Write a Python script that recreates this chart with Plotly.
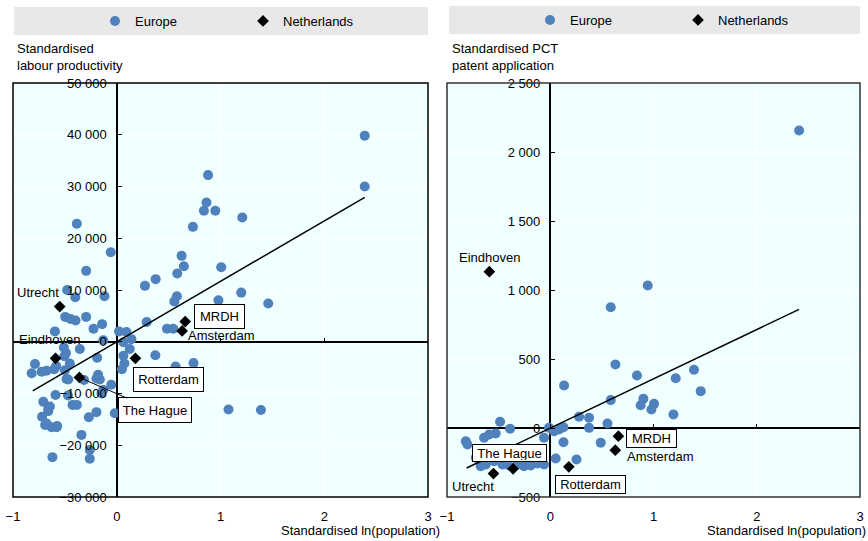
import plotly.graph_objects as go

# ---------------- data ----------------
europe_lp_x = [2.39, 2.39, 0.88, 0.865, 0.84, 0.95, 0.734, 1.21, -0.385, -0.058, 0.625, 0.647, 0.583, 1.007,
               -0.295, 0.375, 0.272, -0.478, -0.40, -0.118, 0.58, 0.555, 1.20, 0.98, 1.46, -0.497, -0.445,
               -0.397, -0.295, -0.141, -0.224, 0.288, 0.484, 0.545, -0.596, 0.022, 0.093, -0.13, 0.141,
               0.064, -0.356, -0.51, -0.49, 0.125, 0.372, 0.064, -0.506, -0.788, -0.82, -0.724, -0.676,
               -0.584, -0.50, -0.452, -0.18, -0.196, -0.484, -0.053, 0.074, 0.05, 0.567, 0.74, -0.708,
               -0.66, -0.72, -0.676, -0.628, -0.58, -0.59, -0.47, -0.426, -0.385, -0.269, -0.196, -0.147,
               -0.13, -0.019, -0.34, -0.26, -0.26, -0.62, 1.077, 1.39, -0.189, -0.603, -0.468, -0.315,
               -0.163, -0.644, -0.66, -0.69, -0.574]
europe_lp_y = [39800, 30000, 32200, 26900, 25300, 25300, 22200, 24000, 22800, 17300, 16600, 14600, 13200, 14400,
               13700, 12100, 10800, 10000, 8600, 8800, 8800, 7800, 9500, 8000, 7400, 4800, 4400,
               4100, 4800, 3400, 2500, 3800, 2500, 2500, 2000, 2000, 1900, 300, 500,
               -100, -1400, -1100, -2200, -1400, -2600, -2700, -2800, -4300, -6100, -5800, -5600,
               -4700, -5500, -4200, -6400, -7100, -7200, -8300, -4200, -5300, -4800, -4100, -11600,
               -12900, -14500, -15800, -16500, -16500, -10300, -10400, -12200, -12200, -14600, -13600, -10000,
               -9300, -13800, -18000, -20900, -22600, -22300, -13100, -13200, -3100, -5300, -7300, -7400,
               -7300, -12500, -13400, -16100, -16300]

europe_pct_x = [2.41, 0.944, 0.586, 0.631, 0.84, 1.215, 1.392, 1.457, 0.586, 0.902, 0.876, 1.005, 0.98,
                1.193, 0.554, 0.489, 0.134, 0.279, 0.376, 0.376, 0.128, 0.053, 0.254, -0.012, 0.037,
                0.085, 0.128, -0.06, -0.486, -0.389, -0.528, -0.592, -0.641, -0.818, -0.802, -0.721,
                -0.673, -0.624, -0.544, -0.463, -0.399, -0.318, -0.254, -0.189, -0.124, -0.06]
europe_pct_y = [2156, 1033, 875, 460, 380, 360, 422, 267, 202, 212, 165, 175, 134,
                98, 33, -107, 308, 81, 74, 1, -103, -221, -228, 1, -23,
                -11, 6, -71, 45, -6, -40, -47, -71, -96, -120, -216,
                -277, -264, -241, -264, -272, -264, -277, -272, -257, -264]

nl_cities = ["Utrecht", "MRDH", "Amsterdam", "Eindhoven", "Rotterdam", "The Hague"]
nl_pop_x = [-0.55, 0.66, 0.63, -0.59, 0.18, -0.36]
nl_lp_y = [6800, 3900, 2100, -3200, -3200, -6900]
nl_pct_y = [-330, -59, -161, 1133, -281, -296]

lp_trend_x = [-0.81, 2.39]
lp_trend_y = [-9500, 27900]
pct_trend_x = [-0.81, 2.41]
pct_trend_y = [-290, 860]

x_ticks = [-1, 0, 1, 2, 3]
lp_range = [-30000, 50000]
pct_range = [-500, 2500]

# ---------------- styling / layout ----------------
W, H = 868, 541
FONT = "Liberation Sans, Arial, sans-serif"
FS = 13
BLUE = "#4F81BD"
BG = "#F0FFFF"


def px_x(p):
    return p / W


def px_y(p):
    return 1 - p / H


xdomL = [px_x(13), px_x(428)]
xdomR = [px_x(447), px_x(860)]
ydom = [px_y(497), px_y(83)]


def frac(dom, rng, v):
    return dom[0] + (v - rng[0]) / (rng[1] - rng[0]) * (dom[1] - dom[0])


fig = go.Figure()

# Left panel
fig.add_trace(go.Scatter(x=europe_lp_x, y=europe_lp_y, mode="markers", name="Europe",
                         marker=dict(color=BLUE, size=10), xaxis="x", yaxis="y", legend="legend"))
fig.add_trace(go.Scatter(x=lp_trend_x, y=lp_trend_y, mode="lines", showlegend=False,
                         line=dict(color="black", width=1.5), xaxis="x", yaxis="y"))
fig.add_trace(go.Scatter(x=nl_pop_x, y=nl_lp_y, mode="markers", name="Netherlands", text=nl_cities,
                         marker=dict(color="black", size=9, symbol="diamond"), xaxis="x", yaxis="y",
                         legend="legend"))
fig.add_trace(go.Scatter(x=[], y=[], xaxis="x3", yaxis="y", showlegend=False))

# Right panel
fig.add_trace(go.Scatter(x=europe_pct_x, y=europe_pct_y, mode="markers", name="Europe",
                         marker=dict(color=BLUE, size=10), xaxis="x2", yaxis="y2", legend="legend2"))
fig.add_trace(go.Scatter(x=pct_trend_x, y=pct_trend_y, mode="lines", showlegend=False,
                         line=dict(color="black", width=1.5), xaxis="x2", yaxis="y2"))
fig.add_trace(go.Scatter(x=nl_pop_x, y=nl_pct_y, mode="markers", name="Netherlands", text=nl_cities,
                         marker=dict(color="black", size=9, symbol="diamond"), xaxis="x2", yaxis="y2",
                         legend="legend2"))
fig.add_trace(go.Scatter(x=[], y=[], xaxis="x4", yaxis="y2", showlegend=False))

tickfont = dict(family=FONT, size=FS, color="black")

xcommon = dict(range=[-1, 3], tickvals=x_ticks, showgrid=True, gridcolor="white", gridwidth=1,
               zeroline=True, zerolinecolor="black", zerolinewidth=2, showline=False, ticks="",
               tickfont=tickfont, ticklabelstandoff=10, automargin=False, fixedrange=True)
ycommon = dict(showgrid=True, gridcolor="white", gridwidth=1, zeroline=True, zerolinecolor="black",
               zerolinewidth=2, showline=False, ticks="inside", ticklen=4, tickcolor="black", tickwidth=1,
               tickfont=tickfont, tickformat=",d", ticklabelstandoff=10, automargin=False, fixedrange=True,
               anchor="free", side="left")
tickaxis = dict(range=[-1, 3], tickvals=x_ticks, ticks="inside", ticklen=4, tickcolor="black",
                showticklabels=False, showgrid=False, zeroline=False, showline=False, anchor="free",
                automargin=False, fixedrange=True)

fig.update_layout(
    width=W, height=H,
    margin=dict(l=0, r=0, t=0, b=0),
    paper_bgcolor="white", plot_bgcolor=BG,
    separators=". ",
    font=dict(family=FONT, size=FS, color="black"),
    xaxis=dict(domain=xdomL, anchor="y", **xcommon),
    yaxis=dict(domain=ydom, range=lp_range, dtick=10000,
               position=frac(xdomL, [-1, 3], 0), **ycommon),
    xaxis2=dict(domain=xdomR, anchor="y2", **xcommon),
    yaxis2=dict(domain=ydom, range=pct_range, dtick=500,
                position=frac(xdomR, [-1, 3], 0), **ycommon),
    xaxis3=dict(domain=xdomL, overlaying="x", position=frac(ydom, lp_range, 0), **tickaxis),
    xaxis4=dict(domain=xdomR, overlaying="x2", position=frac(ydom, pct_range, 0), **tickaxis),
    legend=dict(orientation="h", x=px_x(95), xanchor="left", y=px_y(21), yanchor="middle",
                bgcolor="rgba(0,0,0,0)", font=dict(family=FONT, size=FS), entrywidth=103,
                itemclick=False, itemdoubleclick=False),
    legend2=dict(orientation="h", x=px_x(530), xanchor="left", y=px_y(20), yanchor="middle",
                 bgcolor="rgba(0,0,0,0)", font=dict(family=FONT, size=FS), entrywidth=103,
                 itemclick=False, itemdoubleclick=False),
    showlegend=True,
)

shapes = [
    # legend bands
    dict(type="rect", xref="paper", yref="paper", x0=px_x(14), x1=px_x(428), y0=px_y(35), y1=px_y(7),
         fillcolor="#E8E8E8", line=dict(width=0), layer="below"),
    dict(type="rect", xref="paper", yref="paper", x0=px_x(449), x1=px_x(860), y0=px_y(34), y1=px_y(6),
         fillcolor="#E8E8E8", line=dict(width=0), layer="below"),
    # plot frames
    dict(type="rect", xref="paper", yref="paper", x0=xdomL[0], x1=xdomL[1], y0=ydom[0], y1=ydom[1],
         line=dict(color="black", width=1.5), layer="above"),
    dict(type="rect", xref="paper", yref="paper", x0=xdomR[0], x1=xdomR[1], y0=ydom[0], y1=ydom[1],
         line=dict(color="#333333", width=1.5), layer="above"),
]
fig.update_layout(shapes=shapes)

lab = dict(family=FONT, size=FS, color="black")
box = dict(bgcolor="white", bordercolor="black", borderwidth=1, borderpad=1, showarrow=False,
           xanchor="center", yanchor="middle", font=lab)
plain = dict(showarrow=False, xanchor="center", yanchor="middle", font=lab)

annotations = [
    # axis titles
    dict(text="Standardised<br>labour productivity", xref="paper", yref="paper", x=px_x(15), y=px_y(39),
         xanchor="left", yanchor="top", align="left", showarrow=False, font=lab),
    dict(text="Standardised PCT<br>patent application", xref="paper", yref="paper", x=px_x(450),
         y=px_y(39), xanchor="left", yanchor="top", align="left", showarrow=False, font=lab),
    dict(text="Standardised ln(population)", xref="paper", yref="paper", x=px_x(442), y=px_y(530),
         xanchor="right", yanchor="middle", showarrow=False, font=lab),
    dict(text="Standardised ln(population)", xref="paper", yref="paper", x=px_x(868), y=px_y(530),
         xanchor="right", yanchor="middle", showarrow=False, font=lab),
    # left panel city labels
    dict(text="Utrecht", xref="x", yref="y", x=-0.755, y=9600, **plain),
    dict(text="Eindhoven", xref="x", yref="y", x=-0.649, y=470, **plain),
    dict(text="Amsterdam", xref="x", yref="y", x=1.005, y=1300, **plain),
    dict(text="MRDH", xref="x", yref="y", x=0.986, y=4880, width=47, height=21, **box),
    dict(text="Rotterdam", xref="x", yref="y", x=0.497, y=-7390, width=67, height=21, **box),
    dict(text="The Hague", xref="x", yref="y", x=nl_pop_x[5], y=nl_lp_y[5], ax=76, ay=33,
         showarrow=True, arrowhead=0, arrowwidth=1, arrowcolor="black", standoff=0,
         bgcolor="white", bordercolor="black", borderwidth=1, borderpad=1, width=70, height=22, font=lab),
    # right panel city labels
    dict(text="Eindhoven", xref="x2", yref="y2", x=-0.593, y=1239, **plain),
    dict(text="Utrecht", xref="x2", yref="y2", x=-0.748, y=-425, **plain),
    dict(text="Amsterdam", xref="x2", yref="y2", x=1.06, y=-208, **plain),
    dict(text="MRDH", xref="x2", yref="y2", x=0.985, y=-75, width=47, height=15, **box),
    dict(text="Rotterdam", xref="x2", yref="y2", x=0.39, y=-407, width=67, height=15, **box),
    dict(text="The Hague", xref="x2", yref="y2", x=-0.397, y=-179, width=71, height=14, **box),
]
fig.update_layout(annotations=annotations)

fig.write_html("out.html", config={"displayModeBar": False},
               post_script="document.body.style.margin='0px';document.body.style.overflow='hidden';")
